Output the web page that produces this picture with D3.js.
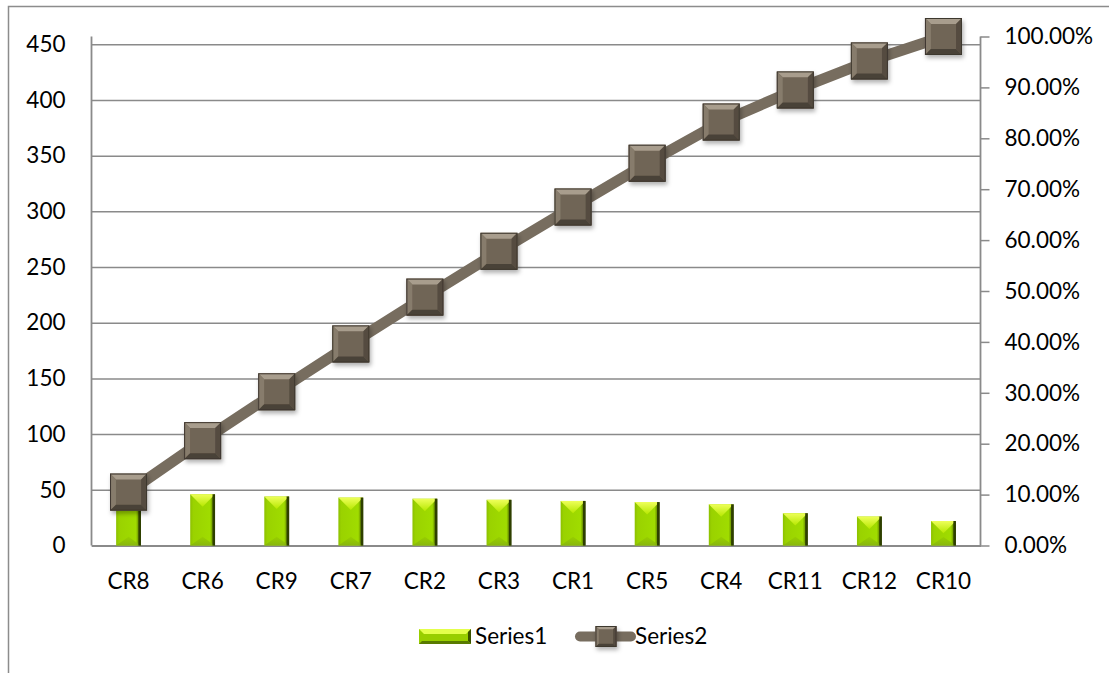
<!DOCTYPE html>
<html>
<head>
<meta charset="utf-8">
<script src="https://cdn.jsdelivr.net/npm/d3@7"></script>
<style>
  html, body { margin: 0; padding: 0; background: #fff; }
  svg { display: block; }
  text { font-family: Lato, "Open Sans", "Liberation Sans", sans-serif; fill: #000; }
</style>
</head>
<body>
<svg id="chart" width="1109" height="673"></svg>
<script>
// ---- data ----
const categories = ["CR8","CR6","CR9","CR7","CR2","CR3","CR1","CR5","CR4","CR11","CR12","CR10"];
const series1 = [48, 46, 44, 43, 42, 41, 40, 39, 37, 29, 26, 22];
const series2 = [10.5, 20.6, 30.2, 39.6, 48.8, 57.8, 66.5, 75.1, 83.2, 89.5, 95.2, 100];
const leftTicks = [0, 50, 100, 150, 200, 250, 300, 350, 400, 450];
const rightTicks = [0, 10, 20, 30, 40, 50, 60, 70, 80, 90, 100];
const leftMax = 457;
const seriesNames = ["Series1", "Series2"];

const FS = "22.5px";
const svg = d3.select("#chart");
const defs = svg.append("defs");

// gradients / filters
const gBar = defs.append("linearGradient").attr("id","barBody").attr("x1","0").attr("x2","1").attr("y1","0").attr("y2","0");
gBar.append("stop").attr("offset","0").attr("stop-color","#8cc000");
gBar.append("stop").attr("offset","0.12").attr("stop-color","#9ad200");
gBar.append("stop").attr("offset","0.8").attr("stop-color","#a0dc00");
gBar.append("stop").attr("offset","0.88").attr("stop-color","#76a200");
gBar.append("stop").attr("offset","1").attr("stop-color","#2f4200");
const gTop = defs.append("linearGradient").attr("id","barTop").attr("x1","0").attr("x2","0").attr("y1","0").attr("y2","1");
gTop.append("stop").attr("offset","0").attr("stop-color","#eeff5a");
gTop.append("stop").attr("offset","1").attr("stop-color","#b6e800");
const gBot = defs.append("linearGradient").attr("id","barBot").attr("x1","0").attr("x2","0").attr("y1","0").attr("y2","1");
gBot.append("stop").attr("offset","0").attr("stop-color","#96cc00");
gBot.append("stop").attr("offset","1").attr("stop-color","#84b010");

const shadow = defs.append("filter").attr("id","shadow").attr("x","-30%").attr("y","-30%").attr("width","170%").attr("height","170%");
shadow.append("feDropShadow").attr("dx",1.5).attr("dy",3).attr("stdDeviation",2).attr("flood-color","#000").attr("flood-opacity",0.3);

// ---- layout / scales ----
const plotLeft = 91.5, plotRight = 980.5, plotTop = 36.5, plotBottom = 545.5;
const x = d3.scaleBand().domain(categories).range([plotLeft, plotRight]).padding(0);
const yL = d3.scaleLinear().domain([0, leftMax]).range([plotBottom, plotTop]);
const yR = d3.scaleLinear().domain([0, 100]).range([plotBottom, plotTop]);

// chart area border
svg.append("rect").attr("x",8.5).attr("y",6.5).attr("width",1200).attr("height",800)
  .attr("fill","none").attr("stroke","#8c8c8c").attr("stroke-width",1.5);

// gridlines (left axis)
const leftAxis = d3.axisLeft(yL).tickValues(leftTicks).tickSize(-(plotRight - plotLeft)).tickPadding(26).tickFormat(d3.format("d"));
const gl = svg.append("g").attr("transform",`translate(${plotLeft},0)`).call(leftAxis);
gl.select(".domain").remove();
gl.selectAll(".tick line").attr("stroke","#8a8a8a").attr("stroke-width",1.5);
gl.selectAll(".tick text").attr("font-size",FS);
// left axis line
svg.append("line").attr("x1",plotLeft).attr("x2",plotLeft).attr("y1",plotTop).attr("y2",plotBottom)
  .attr("stroke","#8a8a8a").attr("stroke-width",1.8);

// right axis
const rightAxis = d3.axisRight(yR).tickValues(rightTicks).tickSize(9).tickPadding(15).tickFormat(d => d3.format(".2f")(d) + "%");
const gr = svg.append("g").attr("transform",`translate(${plotRight},0)`).call(rightAxis);
gr.select(".domain").attr("stroke","#8a8a8a").attr("stroke-width",1.8).attr("d", `M0,${plotTop}V${plotBottom}`);
gr.selectAll(".tick line").attr("stroke","#8a8a8a").attr("stroke-width",1.5);
gr.selectAll(".tick text").attr("font-size",FS);

// category axis (bottom)
const xAxis = d3.axisBottom(x).tickSize(0).tickPadding(28);
const gx = svg.append("g").attr("transform",`translate(0,${plotBottom})`).call(xAxis);
gx.select(".domain").attr("stroke","#8a8a8a").attr("stroke-width",1.8);
gx.selectAll(".tick text").attr("font-size",FS);

// bars
const barW = x.bandwidth() * 0.335;
const bars = svg.append("g").selectAll("g.bar").data(categories.map((c,i)=>({c, v: series1[i]}))).join("g").attr("class","bar");
bars.each(function(d){
  const g = d3.select(this);
  const cx = x(d.c) + x.bandwidth()/2;
  const x0 = cx - barW/2, x1 = cx + barW/2;
  const yt = yL(d.v), yb = yL(0);
  const h = yb - yt;
  const bev = Math.min(barW/2, h/2);
  g.append("rect").attr("x",x0).attr("y",yt).attr("width",barW).attr("height",h).attr("fill","url(#barBody)");
  g.append("path").attr("d",`M${x0},${yt}L${x1},${yt}L${cx},${yt+bev}Z`).attr("fill","url(#barTop)");
  g.append("path").attr("d",`M${x0},${yb}L${x1},${yb}L${cx},${yb-bev*0.7}Z`).attr("fill","url(#barBot)").attr("opacity",0.8);
  g.append("rect").attr("x",x1-2.5).attr("y",yt).attr("width",2.5).attr("height",h).attr("fill","#2e3f00");
});

// line
const pts = categories.map((c,i)=>[x(c)+x.bandwidth()/2, yR(series2[i])]);
svg.append("path").attr("d", d3.line()(pts)).attr("fill","none").attr("stroke","#776d5f")
  .attr("stroke-width",11).attr("stroke-linejoin","round").attr("stroke-linecap","round");

// markers
function marker(g, cx, cy, s) {
  const h = s/2, b = s*0.16;
  const x0 = cx-h, x1 = cx+h, y0 = cy-h, y1 = cy+h;
  const m = g.append("g").attr("filter","url(#shadow)");
  m.append("rect").attr("x",x0).attr("y",y0).attr("width",s).attr("height",s).attr("fill","#706556");
  m.append("path").attr("d",`M${x0},${y0}L${x1},${y0}L${x1-b},${y0+b}L${x0+b},${y0+b}Z`).attr("fill","#a89d8d");
  m.append("path").attr("d",`M${x0},${y0}L${x0+b},${y0+b}L${x0+b},${y1-b}L${x0},${y1}Z`).attr("fill","#877c6c");
  m.append("path").attr("d",`M${x1},${y0}L${x1},${y1}L${x1-b},${y1-b}L${x1-b},${y0+b}Z`).attr("fill","#554c40");
  m.append("path").attr("d",`M${x0},${y1}L${x1},${y1}L${x1-b},${y1-b}L${x0+b},${y1-b}Z`).attr("fill","#4a4237");
  m.append("rect").attr("x",x0+0.5).attr("y",y0+0.5).attr("width",s-1).attr("height",s-1).attr("fill","none").attr("stroke","#3e372f").attr("stroke-width",1);
}
const mg = svg.append("g");
pts.forEach(p => marker(mg, p[0], p[1], 37));

// legend
const leg = svg.append("g");
const sx0 = 419, sy0 = 629, sw = 52, sh = 15;
leg.append("rect").attr("x",sx0).attr("y",sy0).attr("width",sw).attr("height",sh).attr("fill","#98ce00");
leg.append("path").attr("d",`M${sx0},${sy0}L${sx0+sw},${sy0}L${sx0+sw-5},${sy0+5}L${sx0+5},${sy0+5}Z`).attr("fill","#e4ff4c");
leg.append("path").attr("d",`M${sx0+sw},${sy0}L${sx0+sw},${sy0+sh}L${sx0+sw-3},${sy0+sh-3}L${sx0+sw-3},${sy0+3}Z`).attr("fill","#3a5200");
leg.append("path").attr("d",`M${sx0},${sy0+sh}L${sx0+sw},${sy0+sh}L${sx0+sw-3},${sy0+sh-3}L${sx0+3},${sy0+sh-3}Z`).attr("fill","#587a00");
leg.append("text").attr("x",475).attr("y",636.5).attr("dy","0.35em").attr("font-size",FS).text(seriesNames[0]);
leg.append("line").attr("x1",580).attr("x2",631).attr("y1",636.5).attr("y2",636.5)
  .attr("stroke","#776d5f").attr("stroke-width",10).attr("stroke-linecap","round");
marker(leg, 606, 636.5, 21);
leg.append("text").attr("x",635).attr("y",636.5).attr("dy","0.35em").attr("font-size",FS).text(seriesNames[1]);
</script>
</body>
</html>
